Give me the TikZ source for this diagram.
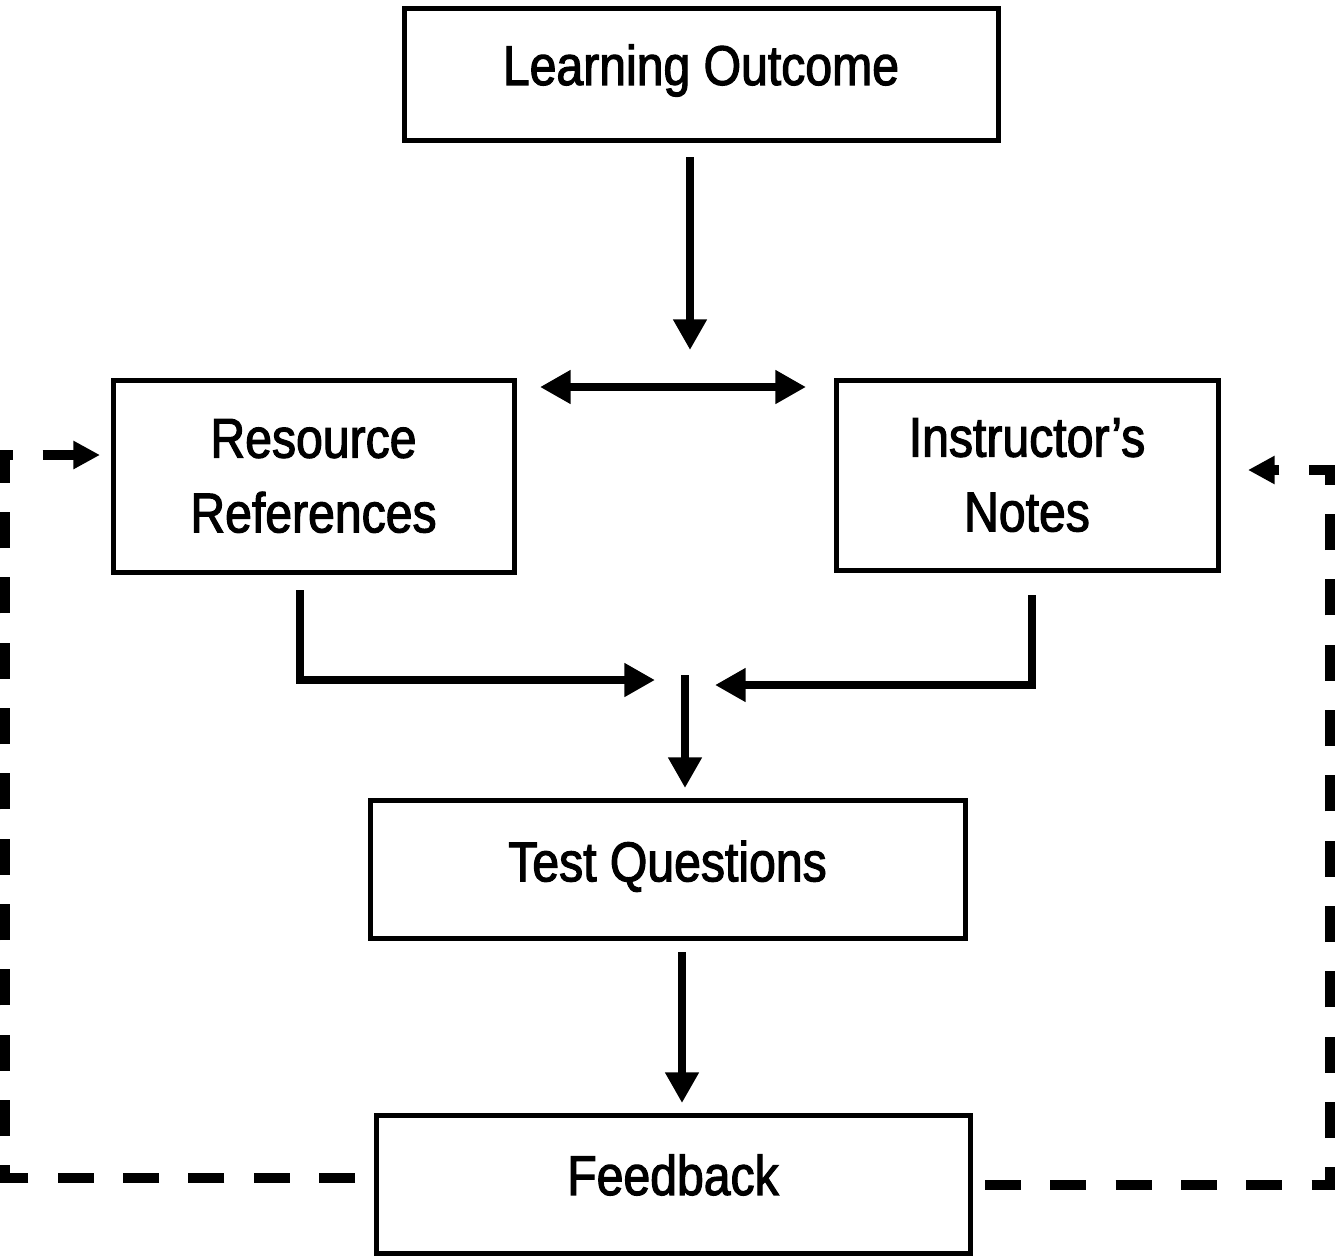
\documentclass[tikz,border=0pt]{standalone}
\usepackage{fontspec}
\setmainfont{Liberation Sans}[FakeStretch=0.86]
\newfontfamily\boxfont{Liberation Sans}[FakeStretch=0.86,FakeBold=2]
\usetikzlibrary{arrows.meta}
\begin{document}
\begin{tikzpicture}[x=0.75pt,y=-0.75pt,
  box/.style={draw,line width=3.75pt,inner sep=0pt,align=center,
    font=\boxfont\fontsize{42}{56}\selectfont},
  arr/.style={line width=6pt,-{Triangle[length=23pt,width=24pt]}},
  darr/.style={line width=6pt,{Triangle[length=23pt,width=24pt]}-{Triangle[length=23pt,width=24pt]}},
  dashline/.style={line width=7.5pt,dash pattern=on 27pt off 22pt,-{Triangle[length=20pt,width=20pt]}}]
\useasboundingbox (0,0) rectangle (1340,1257);
\fill[white] (0,0) rectangle (1340,1257);

\node[box,minimum width=445.5pt,minimum height=99pt] (lo) at (701,74) {\raisebox{14pt}{Learning Outcome}};
\node[box,minimum width=300.75pt,minimum height=144pt] (rr) at (313.5,476) {Resource\\References};
\node[box,minimum width=286.5pt,minimum height=142.5pt] (in) at (1027,475) {Instructor’s\\Notes};
\node[box,minimum width=446.25pt,minimum height=103.5pt] (tq) at (667.5,869) {\raisebox{12pt}{Test Questions}};
\node[box,minimum width=445.5pt,minimum height=103.5pt] (fb) at (673,1184) {\raisebox{14pt}{Feedback}};

\coordinate (loA) at (690,157);
\coordinate (loB) at (690,350);
\coordinate (dl) at (540,387);
\coordinate (dr) at (806,387);
\coordinate (rrA) at (300,590);
\coordinate (rrB) at (655,680);
\coordinate (inA) at (1032,595);
\coordinate (inB) at (715,685);
\coordinate (tqA) at (685,675);
\coordinate (tqB) at (685,788);
\coordinate (fbA) at (682,952);
\coordinate (fbB) at (682,1103);
\coordinate (fl) at (355,1178);
\coordinate (rrL) at (100,455);
\coordinate (fr) at (985,1185);
\coordinate (inR) at (1248,470);

\draw[arr] (loA) -- (loB);
\draw[darr] (dl) -- (dr);
\draw[arr] (rrA) |- (rrB);
\draw[arr] (inA) |- (inB);
\draw[arr] (tqA) -- (tqB);
\draw[arr] (fbA) -- (fbB);
\draw[dashline] (fl) -- (5,1178) -- (5,455) -- (rrL);
\draw[dashline] (fr) -- (1330,1185) -- (1330,470) -- (inR);
\end{tikzpicture}
\end{document}
